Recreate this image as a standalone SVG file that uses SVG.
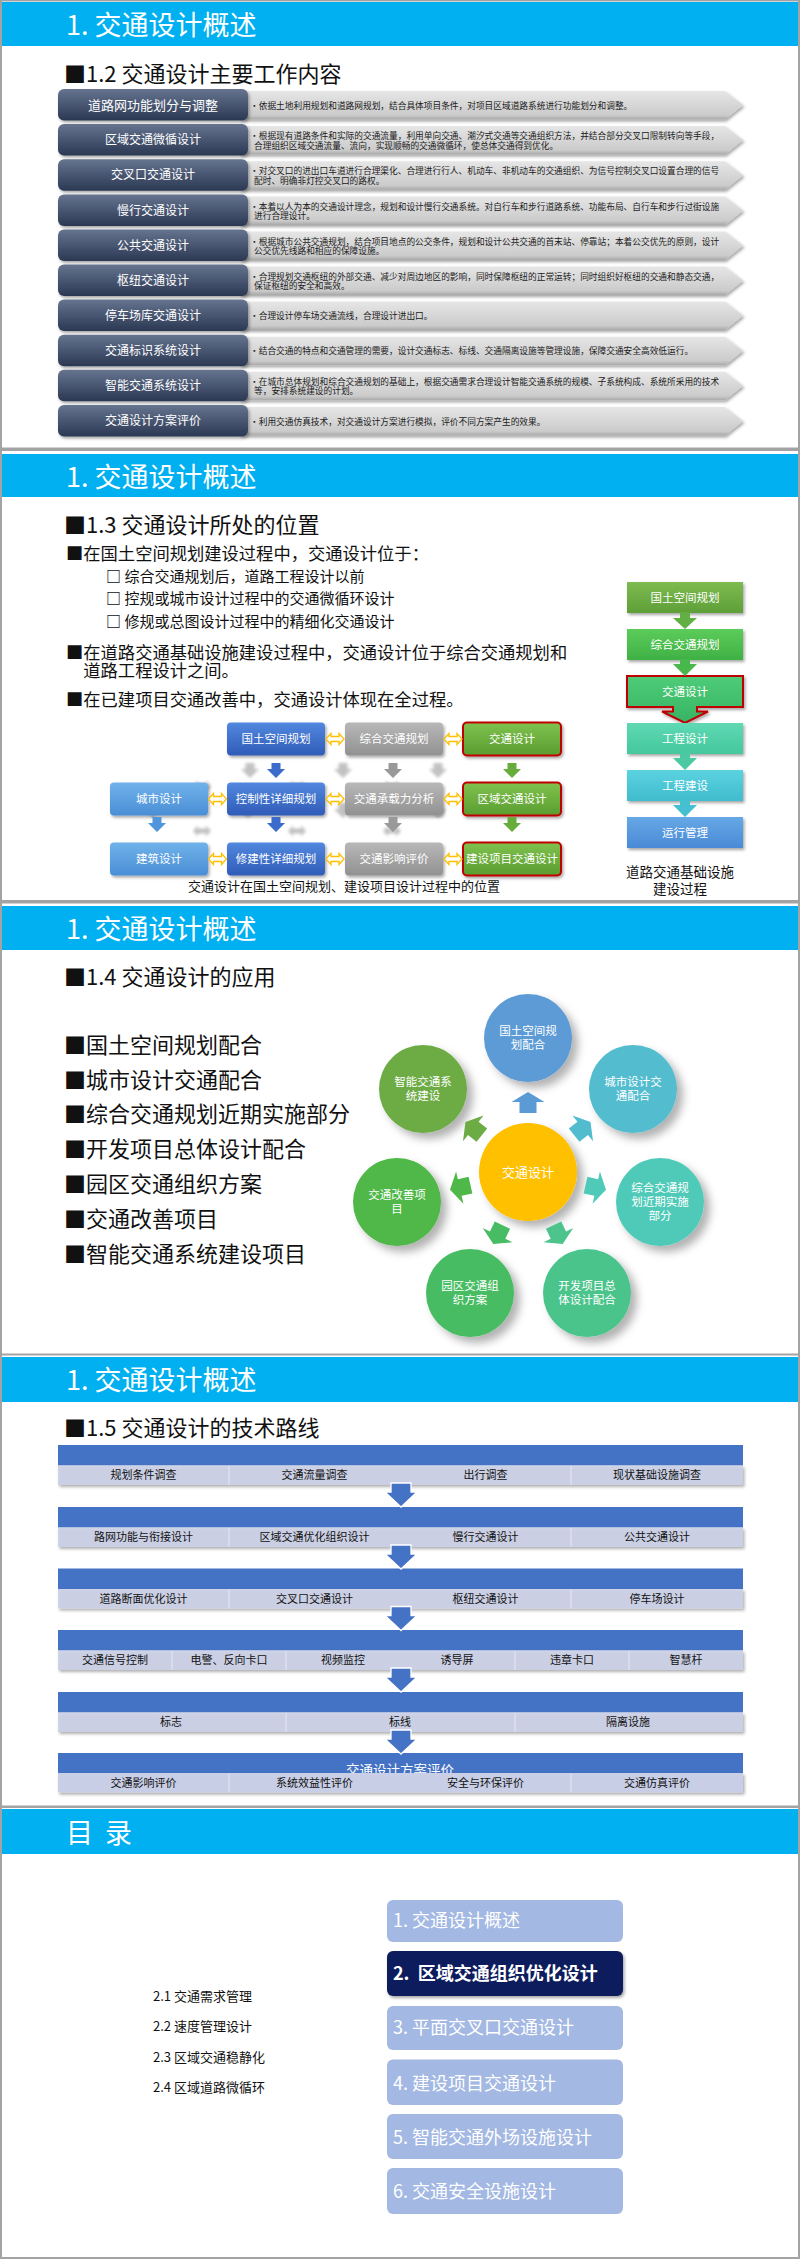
<svg xmlns="http://www.w3.org/2000/svg" width="800" height="2259" viewBox="0 0 800 2259">
<defs>
<style>
text{font-family:'Noto Sans CJK SC','Microsoft YaHei','Noto Sans',sans-serif}
.hdr{fill:#00b0f0}
.slide{fill:#fff}
.ttl{font-size:27px;fill:#fff}
.sub{font-size:22px;fill:#111}
.lbl{font-size:12px;fill:#fff;text-anchor:middle}
.dsc{font-size:8.7px;fill:#1a1a1a}
.bul{font-size:17.3px;fill:#111}
.sbul{font-size:15px;fill:#111}
.wl{font-size:11.5px;fill:#fff;text-anchor:middle}
.cap{font-size:13px;fill:#111;text-anchor:middle}
.big{font-size:22px;fill:#111}
.cl{font-size:11.5px;fill:#fff;text-anchor:middle}
.cell{fill:#c8cee6;fill-opacity:0.88}
.ct{font-size:11px;fill:#111;text-anchor:middle}
.ghost{font-size:13.5px;fill:#fff;text-anchor:middle}
.band{fill:#4472c4}
.sep{stroke:#e4e8f4;stroke-width:1}
.menu{fill:#a3b8e2}
.mt{font-size:18px;fill:#fff}
.ln{stroke:#8799c9;stroke-width:2.5}
.st{font-size:13px;fill:#111}
.dbl{fill:#fff;stroke:#ffc000;stroke-width:1.3}
</style>
<linearGradient id="gDark" x1="0" y1="0" x2="0" y2="1"><stop offset="0" stop-color="#66748f"/><stop offset="1" stop-color="#2b3853"/></linearGradient>
<linearGradient id="gBand" x1="0" y1="0" x2="0" y2="1"><stop offset="0" stop-color="#e6e6e6"/><stop offset="0.85" stop-color="#cbcbcb"/><stop offset="1" stop-color="#a8a8a8"/></linearGradient>
<linearGradient id="gBlue" x1="0" y1="0" x2="0" y2="1"><stop offset="0" stop-color="#5288df"/><stop offset="1" stop-color="#2f5bb7"/></linearGradient>
<linearGradient id="gLBlue" x1="0" y1="0" x2="0" y2="1"><stop offset="0" stop-color="#70b2ea"/><stop offset="1" stop-color="#4a8ed6"/></linearGradient>
<linearGradient id="gGray" x1="0" y1="0" x2="0" y2="1"><stop offset="0" stop-color="#b8b8b8"/><stop offset="1" stop-color="#919191"/></linearGradient>
<linearGradient id="gGreen" x1="0" y1="0" x2="0" y2="1"><stop offset="0" stop-color="#80c24e"/><stop offset="1" stop-color="#5a9d30"/></linearGradient>
<linearGradient id="f1" x1="0" y1="0" x2="0" y2="1"><stop offset="0" stop-color="#7dbb50"/><stop offset="1" stop-color="#5f9f38"/></linearGradient>
<linearGradient id="f2" x1="0" y1="0" x2="0" y2="1"><stop offset="0" stop-color="#5ccc5a"/><stop offset="1" stop-color="#3fb144"/></linearGradient>
<linearGradient id="f3" x1="0" y1="0" x2="0" y2="1"><stop offset="0" stop-color="#4fcc78"/><stop offset="1" stop-color="#36b463"/></linearGradient>
<linearGradient id="f4" x1="0" y1="0" x2="0" y2="1"><stop offset="0" stop-color="#5fd9b3"/><stop offset="1" stop-color="#45c79d"/></linearGradient>
<linearGradient id="f5" x1="0" y1="0" x2="0" y2="1"><stop offset="0" stop-color="#5bd2e0"/><stop offset="1" stop-color="#40bccd"/></linearGradient>
<linearGradient id="f6" x1="0" y1="0" x2="0" y2="1"><stop offset="0" stop-color="#66a8e6"/><stop offset="1" stop-color="#4a8ad6"/></linearGradient>
<filter id="sh" x="-20%" y="-20%" width="150%" height="160%"><feDropShadow dx="1.5" dy="2" stdDeviation="1.5" flood-color="#000" flood-opacity="0.35"/></filter>
<filter id="shc" x="-30%" y="-30%" width="170%" height="170%"><feDropShadow dx="6" dy="6" stdDeviation="4" flood-color="#000" flood-opacity="0.3"/></filter>
<filter id="blur" x="-50%" y="-50%" width="200%" height="200%"><feGaussianBlur stdDeviation="1.6"/></filter>
<path id="dn" d="M-4.5,0 V6 H-9 L0,15 L9,6 H4.5 V0 Z"/>
<path id="dbl" d="M-9,0 L-4,-5.5 V-2.5 H4 V-5.5 L9,0 L4,5.5 V2.5 H-4 V5.5 Z"/>
<path id="car" d="M-8.5,-59 V-70 H-16.5 L0,-80 L16.5,-70 H8.5 V-59 Z"/>
<path id="bar" d="M-10,-2 V7 H-16 L0,22 L16,7 H10 V-2 Z"/>
</defs>

<rect x="0" y="0" width="800" height="2259" fill="#a3a3a3"/>
<g id="slides">
<rect class="slide" x="2" y="1.5" width="796" height="446"/>
<rect class="slide" x="2" y="451" width="796" height="449"/>
<rect class="slide" x="2" y="903.5" width="796" height="450"/>
<rect class="slide" x="2" y="1355.5" width="796" height="450"/>
<rect class="slide" x="2" y="1808" width="796" height="449"/>
<rect class="hdr" x="2" y="2" width="796" height="44"/>
<rect class="hdr" x="2" y="454" width="796" height="43"/>
<rect class="hdr" x="2" y="906" width="796" height="44"/>
<rect class="hdr" x="2" y="1357" width="796" height="45"/>
<rect class="hdr" x="2" y="1809" width="796" height="45"/>
<text class="ttl" x="66" y="35">1. 交通设计概述</text>
<text class="ttl" x="66" y="487">1. 交通设计概述</text>
<text class="ttl" x="66" y="939">1. 交通设计概述</text>
<text class="ttl" x="66" y="1390">1. 交通设计概述</text>
<text class="ttl" x="66" y="1843" word-spacing="6">目 录</text>
</g>

<!-- Slide 1 -->
<g id="s1">
<text class="sub" x="64" y="82">■1.2 交通设计主要工作内容</text>
<g id="row0"><path d="M240,91 H725 L743,105 L725,119.5 H240 Z" fill="url(#gBand)" filter="url(#sh)"/><rect x="58" y="89" width="190" height="31.5" rx="6" fill="url(#gDark)" filter="url(#sh)"/><text class="lbl" x="153" y="109.5" style="font-size:13px">道路网功能划分与调整</text><text class="dsc" x="250" y="108.5">•依据土地利用规划和道路网规划，结合具体项目条件，对项目区域道路系统进行功能划分和调整。</text></g>
<g id="row1"><path d="M240,126 H725 L743,140 L725,154.5 H240 Z" fill="url(#gBand)" filter="url(#sh)"/><rect x="58" y="124" width="190" height="31.5" rx="6" fill="url(#gDark)" filter="url(#sh)"/><text class="lbl" x="153" y="144">区域交通微循设计</text><text class="dsc" x="250" y="139"><tspan>•根据现有道路条件和实际的交通流量，利用单向交通、潮汐式交通等交通组织方法，并结合部分交叉口限制转向等手段，</tspan><tspan x="254" y="148.5">合理组织区域交通流量、流向，实现顺畅的交通微循环，使总体交通得到优化。</tspan></text></g>
<g id="row2"><path d="M240,161.3 H725 L743,175.3 L725,189.8 H240 Z" fill="url(#gBand)" filter="url(#sh)"/><rect x="58" y="159.3" width="190" height="31.5" rx="6" fill="url(#gDark)" filter="url(#sh)"/><text class="lbl" x="153" y="179.3">交叉口交通设计</text><text class="dsc" x="250" y="174.3"><tspan>•对交叉口的进出口车道进行合理渠化、合理进行行人、机动车、非机动车的交通组织、为信号控制交叉口设置合理的信号</tspan><tspan x="254" y="183.8">配时、明确非灯控交叉口的路权。</tspan></text></g>
<g id="row3"><path d="M240,196.5 H725 L743,210.5 L725,225 H240 Z" fill="url(#gBand)" filter="url(#sh)"/><rect x="58" y="194.5" width="190" height="31.5" rx="6" fill="url(#gDark)" filter="url(#sh)"/><text class="lbl" x="153" y="214.5">慢行交通设计</text><text class="dsc" x="250" y="209.5"><tspan>•本着以人为本的交通设计理念，规划和设计慢行交通系统。对自行车和步行道路系统、功能布局、自行车和步行过街设施</tspan><tspan x="254" y="219">进行合理设计。</tspan></text></g>
<g id="row4"><path d="M240,231.5 H725 L743,245.5 L725,260 H240 Z" fill="url(#gBand)" filter="url(#sh)"/><rect x="58" y="229.5" width="190" height="31.5" rx="6" fill="url(#gDark)" filter="url(#sh)"/><text class="lbl" x="153" y="249.5">公共交通设计</text><text class="dsc" x="250" y="244.5"><tspan>•根据城市公共交通规划，结合项目地点的公交条件，规划和设计公共交通的首末站、停靠站；本着公交优先的原则，设计</tspan><tspan x="254" y="254">公交优先线路和相应的保障设施。</tspan></text></g>
<g id="row5"><path d="M240,266.5 H725 L743,280.5 L725,295 H240 Z" fill="url(#gBand)" filter="url(#sh)"/><rect x="58" y="264.5" width="190" height="31.5" rx="6" fill="url(#gDark)" filter="url(#sh)"/><text class="lbl" x="153" y="284.5">枢纽交通设计</text><text class="dsc" x="250" y="279.5"><tspan>•合理规划交通枢纽的外部交通、减少对周边地区的影响，同时保障枢纽的正常运转；同时组织好枢纽的交通和静态交通，</tspan><tspan x="254" y="289">保证枢纽的安全和高效。</tspan></text></g>
<g id="row6"><path d="M240,301.5 H725 L743,315.5 L725,330 H240 Z" fill="url(#gBand)" filter="url(#sh)"/><rect x="58" y="299.5" width="190" height="31.5" rx="6" fill="url(#gDark)" filter="url(#sh)"/><text class="lbl" x="153" y="319.5">停车场库交通设计</text><text class="dsc" x="250" y="319">•合理设计停车场交通流线，合理设计进出口。</text></g>
<g id="row7"><path d="M240,336.7 H725 L743,350.7 L725,365.2 H240 Z" fill="url(#gBand)" filter="url(#sh)"/><rect x="58" y="334.7" width="190" height="31.5" rx="6" fill="url(#gDark)" filter="url(#sh)"/><text class="lbl" x="153" y="354.7">交通标识系统设计</text><text class="dsc" x="250" y="354.2">•结合交通的特点和交通管理的需要，设计交通标志、标线、交通隔离设施等管理设施，保障交通安全高效低运行。</text></g>
<g id="row8"><path d="M240,371.8 H725 L743,385.8 L725,400.3 H240 Z" fill="url(#gBand)" filter="url(#sh)"/><rect x="58" y="369.8" width="190" height="31.5" rx="6" fill="url(#gDark)" filter="url(#sh)"/><text class="lbl" x="153" y="389.8">智能交通系统设计</text><text class="dsc" x="250" y="384.8"><tspan>•在城市总体规划和综合交通规划的基础上，根据交通需求合理设计智能交通系统的规模、子系统构成、系统所采用的技术</tspan><tspan x="254" y="394.3">等，安排系统建设的计划。</tspan></text></g>
<g id="row9"><path d="M240,407 H725 L743,421 L725,435.5 H240 Z" fill="url(#gBand)" filter="url(#sh)"/><rect x="58" y="405" width="190" height="31.5" rx="6" fill="url(#gDark)" filter="url(#sh)"/><text class="lbl" x="153" y="425">交通设计方案评价</text><text class="dsc" x="250" y="424.5">•利用交通仿真技术，对交通设计方案进行模拟，评价不同方案产生的效果。</text></g>
</g>

<!-- Slide 2 -->
<g id="s2">
<text class="sub" x="64" y="533">■1.3 交通设计所处的位置</text>
<text class="bul" x="66" y="560">■在国土空间规划建设过程中，交通设计位于：</text>
<text class="sbul" x="106" y="582" font-weight="bold">□ <tspan font-weight="normal">综合交通规划后，道路工程设计以前</tspan></text>
<text class="sbul" x="106" y="604" font-weight="bold">□ <tspan font-weight="normal">控规或城市设计过程中的交通微循环设计</tspan></text>
<text class="sbul" x="106" y="626.5" font-weight="bold">□ <tspan font-weight="normal">修规或总图设计过程中的精细化交通设计</tspan></text>
<text class="bul" x="66" y="659">■在道路交通基础设施建设过程中，交通设计位于综合交通规划和<tspan x="83.3" y="677">道路工程设计之间。</tspan></text>
<text class="bul" x="66" y="706">■在已建项目交通改善中，交通设计体现在全过程。</text>

<g id="flow-right">
<g id="fr1"><rect x="627" y="582" width="116" height="31" fill="url(#f1)" filter="url(#sh)"/><text class="wl" x="685" y="601.5">国土空间规划</text></g>
<g id="fr2"><rect x="627" y="629" width="116" height="31" fill="url(#f2)" filter="url(#sh)"/><text class="wl" x="685" y="648.5">综合交通规划</text></g>
<g id="fr3"><path d="M627,676 H743 V707 H697 V711.5 H708 L685,723 L662,711.5 H673 V707 H627 Z" fill="url(#f3)" stroke="#c00000" stroke-width="2" filter="url(#sh)"/><text class="wl" x="685" y="695.5">交通设计</text></g>
<g id="fr4"><rect x="627" y="723" width="116" height="31" fill="url(#f4)" filter="url(#sh)"/><text class="wl" x="685" y="742.5">工程设计</text></g>
<g id="fr5"><rect x="627" y="770" width="116" height="31" fill="url(#f5)" filter="url(#sh)"/><text class="wl" x="685" y="789.5">工程建设</text></g>
<g id="fr6"><rect x="627" y="817" width="116" height="31" fill="url(#f6)" filter="url(#sh)"/><text class="wl" x="685" y="836.5">运行管理</text></g>
<text class="cap" x="680" y="877" style="font-size:13.5px">道路交通基础设施</text>
<text class="cap" x="680" y="894" style="font-size:13.5px">建设过程</text>
</g>
<g id="flow-right-connectors">
<path d="M680,612 V618 H673 L685,629 L697,618 H690 V612 Z" fill="#62b043"/>
<path d="M680,659 V664 H673 L685,676 L697,664 H690 V659 Z" fill="#48b84c"/>
<path d="M680,753 V758 H673 L685,770 L697,758 H690 V753 Z" fill="#4cc9a2"/>
<path d="M680,800 V805 H673 L685,817 L697,805 H690 V800 Z" fill="#45c0d0"/>
</g>

<g id="ghosts" opacity="0.45" filter="url(#blur)" fill="#777">
<use href="#dn" x="250" y="763"/><use href="#dn" x="343" y="763"/><use href="#dn" x="438" y="763"/>
<use href="#dbl" x="202" y="786"/><use href="#dbl" x="297" y="786"/><use href="#dbl" x="392" y="786"/>
<use href="#dn" x="153" y="803"/><use href="#dn" x="248" y="803"/><use href="#dn" x="343" y="803"/><use href="#dn" x="438" y="803"/>
<use href="#dbl" x="202" y="831"/><use href="#dbl" x="297" y="831"/><use href="#dbl" x="392" y="831"/>
<use href="#dn" x="297" y="738"/><use href="#dn" x="392" y="738"/>
</g>

<g id="n-gtkjgh"><rect x="227" y="722.5" width="98" height="33" rx="4" fill="url(#gBlue)" filter="url(#sh)"/><text class="cl" x="276" y="743">国土空间规划</text></g>
<g id="n-zhjtgh"><rect x="345" y="722.5" width="98" height="33" rx="4" fill="url(#gGray)" filter="url(#sh)"/><text class="cl" x="394" y="743">综合交通规划</text></g>
<g id="n-jtsj"><rect x="463" y="722.5" width="98" height="33" rx="4" fill="url(#gGreen)" stroke="#c00000" stroke-width="2" filter="url(#sh)"/><text class="cl" x="512" y="743">交通设计</text></g>
<g id="n-cssj"><rect x="110" y="782.5" width="98" height="33" rx="4" fill="url(#gLBlue)" filter="url(#sh)"/><text class="cl" x="159" y="803">城市设计</text></g>
<g id="n-kzx"><rect x="227" y="782.5" width="98" height="33" rx="4" fill="url(#gBlue)" filter="url(#sh)"/><text class="cl" x="276" y="803">控制性详细规划</text></g>
<g id="n-czl"><rect x="345" y="782.5" width="98" height="33" rx="4" fill="url(#gGray)" filter="url(#sh)"/><text class="cl" x="394" y="803">交通承载力分析</text></g>
<g id="n-qyjt"><rect x="463" y="782.5" width="98" height="33" rx="4" fill="url(#gGreen)" stroke="#c00000" stroke-width="2" filter="url(#sh)"/><text class="cl" x="512" y="803">区域交通设计</text></g>
<g id="n-jzsj"><rect x="110" y="842.5" width="98" height="33" rx="4" fill="url(#gLBlue)" filter="url(#sh)"/><text class="cl" x="159" y="863">建筑设计</text></g>
<g id="n-xjx"><rect x="227" y="842.5" width="98" height="33" rx="4" fill="url(#gBlue)" filter="url(#sh)"/><text class="cl" x="276" y="863">修建性详细规划</text></g>
<g id="n-yxpj"><rect x="345" y="842.5" width="98" height="33" rx="4" fill="url(#gGray)" filter="url(#sh)"/><text class="cl" x="394" y="863">交通影响评价</text></g>
<g id="n-jsxm"><rect x="463" y="842.5" width="98" height="33" rx="4" fill="url(#gGreen)" stroke="#c00000" stroke-width="2" filter="url(#sh)"/><text class="cl" x="512" y="863">建设项目交通设计</text></g>

<g id="left-connectors">
<use href="#dbl" class="dbl" x="335" y="739"/><use href="#dbl" class="dbl" x="453" y="739"/>
<use href="#dbl" class="dbl" x="217.5" y="799"/><use href="#dbl" class="dbl" x="335" y="799"/><use href="#dbl" class="dbl" x="453" y="799"/>
<use href="#dbl" class="dbl" x="217.5" y="859"/><use href="#dbl" class="dbl" x="335" y="859"/><use href="#dbl" class="dbl" x="453" y="859"/>
<use href="#dn" x="276" y="763" fill="#3c6ccb"/><use href="#dn" x="393" y="763" fill="#999"/><use href="#dn" x="512" y="763" fill="#66ad3c"/>
<use href="#dn" x="157" y="817" fill="#4f96dc"/><use href="#dn" x="276" y="817" fill="#3c6ccb"/><use href="#dn" x="393" y="817" fill="#999"/><use href="#dn" x="512" y="817" fill="#66ad3c"/>
</g>
<text class="cap" x="344" y="891">交通设计在国土空间规划、建设项目设计过程中的位置</text>
</g>

<!-- Slide 3 -->
<g id="s3">
<text class="sub" x="64" y="985">■1.4 交通设计的应用</text>
<text class="big" x="64" y="1053">■国土空间规划配合</text>
<text class="big" x="64" y="1088">■城市设计交通配合</text>
<text class="big" x="64" y="1122">■综合交通规划近期实施部分</text>
<text class="big" x="64" y="1157">■开发项目总体设计配合</text>
<text class="big" x="64" y="1192">■园区交通组织方案</text>
<text class="big" x="64" y="1227">■交通改善项目</text>
<text class="big" x="64" y="1262">■智能交通系统建设项目</text>

<g id="c-top"><circle cx="528" cy="1038" r="44" fill="#5b9bd5" filter="url(#shc)"/><text class="cl" x="528" y="1035">国土空间规</text><text class="cl" x="528" y="1049">划配合</text></g>
<g id="c-city"><circle cx="633" cy="1089" r="44" fill="#52bccf" filter="url(#shc)"/><text class="cl" x="633" y="1086">城市设计交</text><text class="cl" x="633" y="1100">通配合</text></g>
<g id="c-zh"><circle cx="660" cy="1202" r="44" fill="#50cab8" filter="url(#shc)"/><text class="cl" x="660" y="1192">综合交通规</text><text class="cl" x="660" y="1206">划近期实施</text><text class="cl" x="660" y="1220">部分</text></g>
<g id="c-kf"><circle cx="587" cy="1293" r="44" fill="#4cc48c" filter="url(#shc)"/><text class="cl" x="587" y="1290">开发项目总</text><text class="cl" x="587" y="1304">体设计配合</text></g>
<g id="c-yq"><circle cx="470" cy="1293" r="44" fill="#47bc62" filter="url(#shc)"/><text class="cl" x="470" y="1290">园区交通组</text><text class="cl" x="470" y="1304">织方案</text></g>
<g id="c-gs"><circle cx="397" cy="1202" r="44" fill="#50b848" filter="url(#shc)"/><text class="cl" x="397" y="1199">交通改善项</text><text class="cl" x="397" y="1213">目</text></g>
<g id="c-zn"><circle cx="423" cy="1089" r="44" fill="#6dab45" filter="url(#shc)"/><text class="cl" x="423" y="1086">智能交通系</text><text class="cl" x="423" y="1100">统建设</text></g>
<g id="c-center"><circle cx="528" cy="1172" r="49" fill="#ffc000" filter="url(#shc)"/><text class="cl" x="528" y="1176.5" style="font-size:13px">交通设计</text></g>
<g id="ring-connectors" transform="translate(528,1172)">
<use href="#car" fill="#5b9bd5"/>
<use href="#car" fill="#52bccf" transform="rotate(51.43)"/>
<use href="#car" fill="#50cab8" transform="rotate(102.86)"/>
<use href="#car" fill="#4cc48c" transform="rotate(154.29)"/>
<use href="#car" fill="#47bc62" transform="rotate(205.71)"/>
<use href="#car" fill="#50b848" transform="rotate(257.14)"/>
<use href="#car" fill="#6dab45" transform="rotate(308.57)"/>
</g>
</g>

<!-- Slide 4 -->
<g id="s4">
<text class="sub" x="64" y="1436">■1.5 交通设计的技术路线</text>
<g id="blk1"><rect class="band" x="58" y="1445" width="685" height="20.5"/><text class="ghost" x="400" y="1480.5">交通调查</text><rect class="cell" x="58" y="1465.5" width="685" height="19.5" filter="url(#sh)"/><line class="sep" x1="229" y1="1466" x2="229" y2="1485"/><line class="sep" x1="571" y1="1466" x2="571" y2="1485"/><text class="ct" x="143.5" y="1479">规划条件调查</text><text class="ct" x="314.5" y="1479">交通流量调查</text><text class="ct" x="485.5" y="1479">出行调查</text><text class="ct" x="657" y="1479">现状基础设施调查</text></g>
<g id="blk2"><rect class="band" x="58" y="1507" width="685" height="20.5"/><text class="ghost" x="400" y="1542.5">区域交通设计</text><rect class="cell" x="58" y="1527.5" width="685" height="19.5" filter="url(#sh)"/><line class="sep" x1="229" y1="1528" x2="229" y2="1547"/><line class="sep" x1="571" y1="1528" x2="571" y2="1547"/><text class="ct" x="143.5" y="1541">路网功能与衔接设计</text><text class="ct" x="314.5" y="1541">区域交通优化组织设计</text><text class="ct" x="485.5" y="1541">慢行交通设计</text><text class="ct" x="657" y="1541">公共交通设计</text></g>
<g id="blk3"><rect class="band" x="58" y="1568.5" width="685" height="20.5"/><text class="ghost" x="400" y="1604.5">节点交通设计</text><rect class="cell" x="58" y="1589" width="685" height="19.5" filter="url(#sh)"/><line class="sep" x1="229" y1="1589.5" x2="229" y2="1608.5"/><line class="sep" x1="571" y1="1589.5" x2="571" y2="1608.5"/><text class="ct" x="143.5" y="1602.5">道路断面优化设计</text><text class="ct" x="314.5" y="1602.5">交叉口交通设计</text><text class="ct" x="485.5" y="1602.5">枢纽交通设计</text><text class="ct" x="657" y="1602.5">停车场设计</text></g>
<g id="blk4"><rect class="band" x="58" y="1630" width="685" height="20.5"/><text class="ghost" x="400" y="1664.5">交通管理系统</text><rect class="cell" x="58" y="1650.5" width="685" height="19.5" filter="url(#sh)"/><line class="sep" x1="172" y1="1651" x2="172" y2="1670"/><line class="sep" x1="286" y1="1651" x2="286" y2="1670"/><line class="sep" x1="515" y1="1651" x2="515" y2="1670"/><line class="sep" x1="629" y1="1651" x2="629" y2="1670"/><text class="ct" x="115" y="1664">交通信号控制</text><text class="ct" x="229" y="1664">电警、反向卡口</text><text class="ct" x="343" y="1664">视频监控</text><text class="ct" x="457" y="1664">诱导屏</text><text class="ct" x="572" y="1664">违章卡口</text><text class="ct" x="686" y="1664">智慧杆</text></g>
<g id="blk5"><rect class="band" x="58" y="1692" width="685" height="20.5"/><text class="ghost" x="400" y="1727.5">交通安全设施设计</text><rect class="cell" x="58" y="1712.5" width="685" height="19.5" filter="url(#sh)"/><line class="sep" x1="286" y1="1713" x2="286" y2="1732"/><line class="sep" x1="515" y1="1713" x2="515" y2="1732"/><text class="ct" x="171" y="1726">标志</text><text class="ct" x="400" y="1726">标线</text><text class="ct" x="628" y="1726">隔离设施</text></g>
<g id="blk6"><rect class="band" x="58" y="1753" width="685" height="20"/><text class="ghost" x="400" y="1775">交通设计方案评价</text><rect class="cell" x="58" y="1773" width="685" height="19.5" style="fill-opacity:0.97" filter="url(#sh)"/><line class="sep" x1="229" y1="1773.5" x2="229" y2="1792.5"/><line class="sep" x1="571" y1="1773.5" x2="571" y2="1792.5"/><text class="ct" x="143.5" y="1786.5">交通影响评价</text><text class="ct" x="314.5" y="1786.5">系统效益性评价</text><text class="ct" x="485.5" y="1786.5">安全与环保评价</text><text class="ct" x="657" y="1786.5">交通仿真评价</text></g>
<g id="route-connectors" fill="#4472c4" stroke="#fff" stroke-width="1.3">
<use href="#bar" x="401" y="1485"/>
<use href="#bar" x="401" y="1547"/>
<use href="#bar" x="401" y="1608.5"/>
<use href="#bar" x="401" y="1670"/>
<use href="#bar" x="401" y="1732"/>
</g>
</g>

<!-- Slide 5 -->
<g id="s5">
<g id="m1"><rect class="menu" x="387" y="1900" width="236" height="42" rx="6"/><text class="mt" x="393" y="1927">1. 交通设计概述</text></g>
<g id="m2"><rect x="387" y="1951" width="236" height="45" rx="6" fill="#0e1f5c" filter="url(#sh)"/><text class="mt" x="393" y="1980" font-weight="bold" xml:space="preserve">2.  区域交通组织优化设计</text></g>
<g id="m3"><rect class="menu" x="387" y="2006" width="236" height="44" rx="6"/><text class="mt" x="393" y="2034">3. 平面交叉口交通设计</text></g>
<g id="m4"><rect class="menu" x="387" y="2059.5" width="236" height="45.5" rx="6"/><text class="mt" x="393" y="2090">4. 建设项目交通设计</text></g>
<g id="m5"><rect class="menu" x="387" y="2114" width="236" height="45" rx="6"/><text class="mt" x="393" y="2144">5. 智能交通外场设施设计</text></g>
<g id="m6"><rect class="menu" x="387" y="2168" width="236" height="46" rx="6"/><text class="mt" x="393" y="2198">6. 交通安全设施设计</text></g>
<g id="sublist">
<line class="ln" x1="149" y1="1984.5" x2="327" y2="1984.5" filter="url(#sh)"/>
<line class="ln" x1="149" y1="2015" x2="327" y2="2015" filter="url(#sh)"/>
<line class="ln" x1="149" y1="2045" x2="327" y2="2045" filter="url(#sh)"/>
<line class="ln" x1="149" y1="2076" x2="327" y2="2076" filter="url(#sh)"/>
<line class="ln" x1="149" y1="2107" x2="327" y2="2107" filter="url(#sh)"/>
<text class="st" x="153" y="2001">2.1 交通需求管理</text>
<text class="st" x="153" y="2031">2.2 速度管理设计</text>
<text class="st" x="153" y="2061.5">2.3 区域交通稳静化</text>
<text class="st" x="153" y="2092">2.4 区域道路微循环</text>
</g>
</g>
</svg>
